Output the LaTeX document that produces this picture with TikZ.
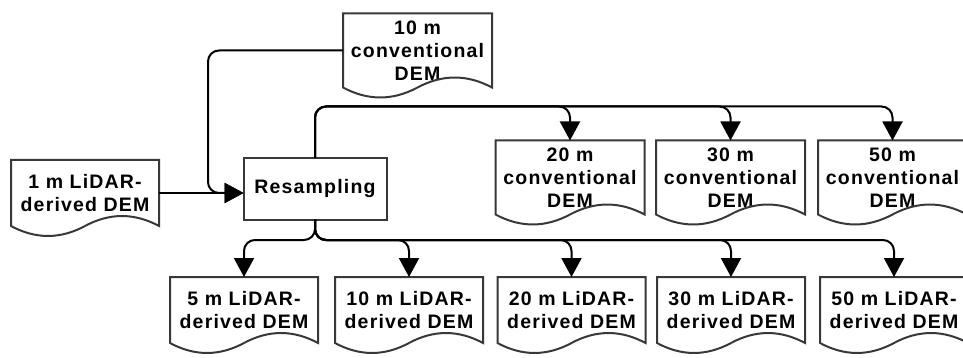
\documentclass[tikz,border=0pt]{standalone}
\usepackage{fontspec}
\setmainfont{Liberation Sans}[LetterSpace=6]
\usetikzlibrary{arrows.meta,calc}
\definecolor{docgray}{HTML}{383838}
\tikzset{
  lab/.style={font=\bfseries\fontsize{19.5}{23.3}\selectfont},
  docbox/.style={lab, draw=none, inner sep=0pt, outer sep=0pt, align=center, minimum width=148pt},
  convdoc/.style={docbox, minimum width=149pt, minimum height=74pt},
  lidardoc/.style={docbox, minimum height=66pt},
  procbox/.style={lab, draw=docgray, line width=2pt, inner sep=0pt, outer sep=0pt, minimum width=143pt, minimum height=62pt},
  docline/.style={draw=docgray, line width=2pt},
  conn/.style={draw=black, line width=2pt, rounded corners=11pt, -{Triangle[width=20pt,length=19pt]}},
}
\newcommand\docout[1]{%
  \draw[docline] (#1.north west) -- (#1.north east) -- (#1.south east)
   .. controls ($(#1.south west)!5/6!(#1.south east)+(0,-13.3)$) and ($(#1.south west)!2/3!(#1.south east)+(0,-13.3)$) .. (#1.south)
   .. controls ($(#1.south west)!1/3!(#1.south east)+(0,13.3)$) and ($(#1.south west)!1/6!(#1.south east)+(0,13.3)$) .. (#1.south west) -- cycle;}
\begin{document}
\begin{tikzpicture}[x=1pt,y=-1pt]
\clip (0,0) rectangle (963,358);
\useasboundingbox (0,0) rectangle (963,358);
% nodes
\node[convdoc] (c10) at (417.5,50.5) {10 m\\conventional\\DEM};
\node[convdoc] (c20) at (570,177.5) {20 m\\conventional\\DEM};
\node[convdoc] (c30) at (730.5,177.5) {30 m\\conventional\\DEM};
\node[convdoc] (c50) at (892.5,177.5) {50 m\\conventional\\DEM};
\node[lidardoc] (l1) at (85,193) {1 m LiDAR-\\derived DEM};
\node[procbox] (res) at (315,188.7) {Resampling};
\node[lidardoc] (l5) at (244,310) {5 m LiDAR-\\derived DEM};
\node[lidardoc] (l10) at (409,310) {10 m LiDAR-\\derived DEM};
\node[lidardoc] (l20) at (571.5,310) {20 m LiDAR-\\derived DEM};
\node[lidardoc] (l30) at (731,310) {30 m LiDAR-\\derived DEM};
\node[lidardoc] (l50) at (894,310) {50 m LiDAR-\\derived DEM};
% outlines
\foreach \n in {c10,c20,c30,c50,l1,l5,l10,l20,l30,l50}{\docout{\n}}
% helper coordinates
\coordinate (j) at (208,0);
\coordinate (h1) at (0,106.5);
\coordinate (h2) at (0,240);
% connectors
\draw[conn] (l1.east) -- (l1.east -| res.west);
\draw[conn] (c10.west) -- (c10.west -| j) -- (j |- l1.east) -- (l1.east -| res.west);
\foreach \n in {c20,c30,c50}{
  \draw[conn] (res.north) -- (res.north |- h1) -- (h1 -| \n.north) -- (\n.north);
}
\foreach \n in {l5,l10,l20,l30,l50}{
  \draw[conn] (res.south) -- (res.south |- h2) -- (h2 -| \n.north) -- (\n.north);
}
\end{tikzpicture}
\end{document}
